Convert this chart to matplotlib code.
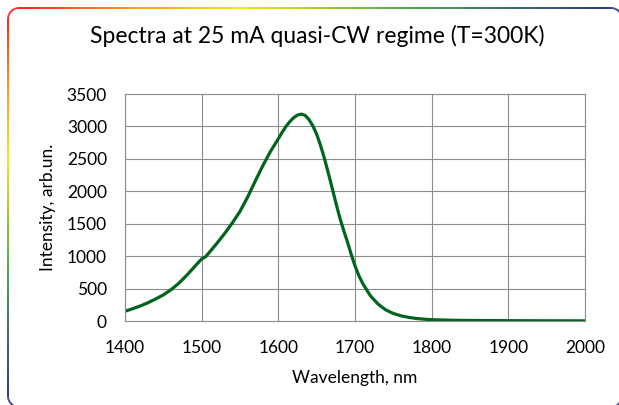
import numpy as np
import matplotlib
matplotlib.use("Agg")
import matplotlib.pyplot as plt
from matplotlib.collections import LineCollection
from matplotlib.colors import LinearSegmentedColormap

plt.rcParams['font.family'] = ['Lato', 'DejaVu Sans']

# Spectrum
wavelength = [1400, 1410, 1420, 1430, 1440, 1450, 1460, 1470, 1480, 1490,
              1500, 1505, 1510, 1520, 1530, 1540, 1550, 1560, 1570, 1580,
              1590, 1600, 1605, 1610, 1615, 1620, 1625, 1630, 1635, 1640,
              1645, 1650, 1655, 1660, 1665, 1670, 1675, 1680, 1685,
              1690, 1695, 1700, 1705, 1710, 1720, 1730, 1740, 1750, 1760,
              1770, 1780, 1790, 1800, 1825, 1850, 1900, 1950, 2000]
intensity = [150, 190, 232, 282, 340, 402, 482, 580, 698, 828,
             958, 990, 1058, 1200, 1350, 1512, 1690, 1912, 2160, 2400,
             2620, 2810, 2910, 3000, 3075, 3135, 3175, 3190, 3170, 3105,
             3010, 2880, 2710, 2510, 2290, 2060, 1825, 1600, 1405,
             1225, 1030, 850, 700, 580, 390, 262, 172, 116, 80,
             56, 39, 28, 20, 12, 8, 5, 3, 2]

x_ticks = [1400, 1500, 1600, 1700, 1800, 1900, 2000]
y_ticks = [0, 500, 1000, 1500, 2000, 2500, 3000, 3500]

W, H = 619, 405
fig = plt.figure(figsize=(W / 100, H / 100), dpi=100)

ax = fig.add_axes([125 / W, 1 - 321 / H, 460 / W, 227 / H])
ax.plot(wavelength, intensity, color='#00641E', lw=2.3,
        solid_joinstyle='round', solid_capstyle='round')
ax.set_xlim(1400, 2000)
ax.set_ylim(0, 3500)
ax.set_xticks(x_ticks)
ax.set_yticks(y_ticks)
ax.tick_params(length=0, labelsize=12.5, pad=13, colors='black')
ax.tick_params(axis='x', pad=14)
ax.grid(True, color='#8C8C8C', lw=0.8)
ax.set_axisbelow(True)
for s in ax.spines.values():
    s.set_color('#8C8C8C')
    s.set_linewidth(0.8)
ax.set_xlabel('Wavelength, nm', fontsize=12.5, labelpad=10)
ax.set_ylabel('Intensity, arb.un.', fontsize=12.5, labelpad=8)

fig.text(317 / W, 1 - 36 / H, 'Spectra at 25 mA quasi-CW regime (T=300K)',
         ha='center', va='center', fontsize=16.5)

# rainbow rounded frame
ov = fig.add_axes([0, 0, 1, 1])
ov.set_xlim(0, W)
ov.set_ylim(H, 0)
ov.axis('off')
ov.patch.set_alpha(0)
x0, y0, x1, y1, r = 8, 8, 622, 407, 11
pts = []
th = np.linspace(np.pi, 1.5 * np.pi, 20)
pts += list(zip(x0 + r + r * np.cos(th), y0 + r + r * np.sin(th)))
pts += list(zip(np.linspace(x0 + r, x1 - r, 200), np.full(200, y0)))
th = np.linspace(1.5 * np.pi, 2 * np.pi, 20)
pts += list(zip(x1 - r + r * np.cos(th), y0 + r + r * np.sin(th)))
pts += list(zip(np.full(100, x1), np.linspace(y0 + r, y1 - r, 100)))
th = np.linspace(0, 0.5 * np.pi, 20)
pts += list(zip(x1 - r + r * np.cos(th), y1 - r + r * np.sin(th)))
pts += list(zip(np.linspace(x1 - r, x0 + r, 200), np.full(200, y1)))
th = np.linspace(0.5 * np.pi, np.pi, 20)
pts += list(zip(x0 + r + r * np.cos(th), y1 - r + r * np.sin(th)))
pts += list(zip(np.full(200, x0), np.linspace(y1 - r, y0 + r, 200)))
pts = np.array(pts)
segs = np.stack([pts[:-1], pts[1:]], axis=1)
mid = segs.mean(axis=1)
t = np.maximum((mid[:, 0] - x0) / (x1 - x0), (mid[:, 1] - y0) / (y1 - y0))
cmap = LinearSegmentedColormap.from_list(
    'frame', [(0, '#FF0000'), (0.2, '#FF8C1A'), (0.38, '#F2E600'),
              (0.65, '#3CA03C'), (1.0, '#1A1A80')])
lc = LineCollection(segs, colors=cmap(t), linewidths=1.3)
ov.add_collection(lc)

fig.savefig('out.png', dpi=100)
